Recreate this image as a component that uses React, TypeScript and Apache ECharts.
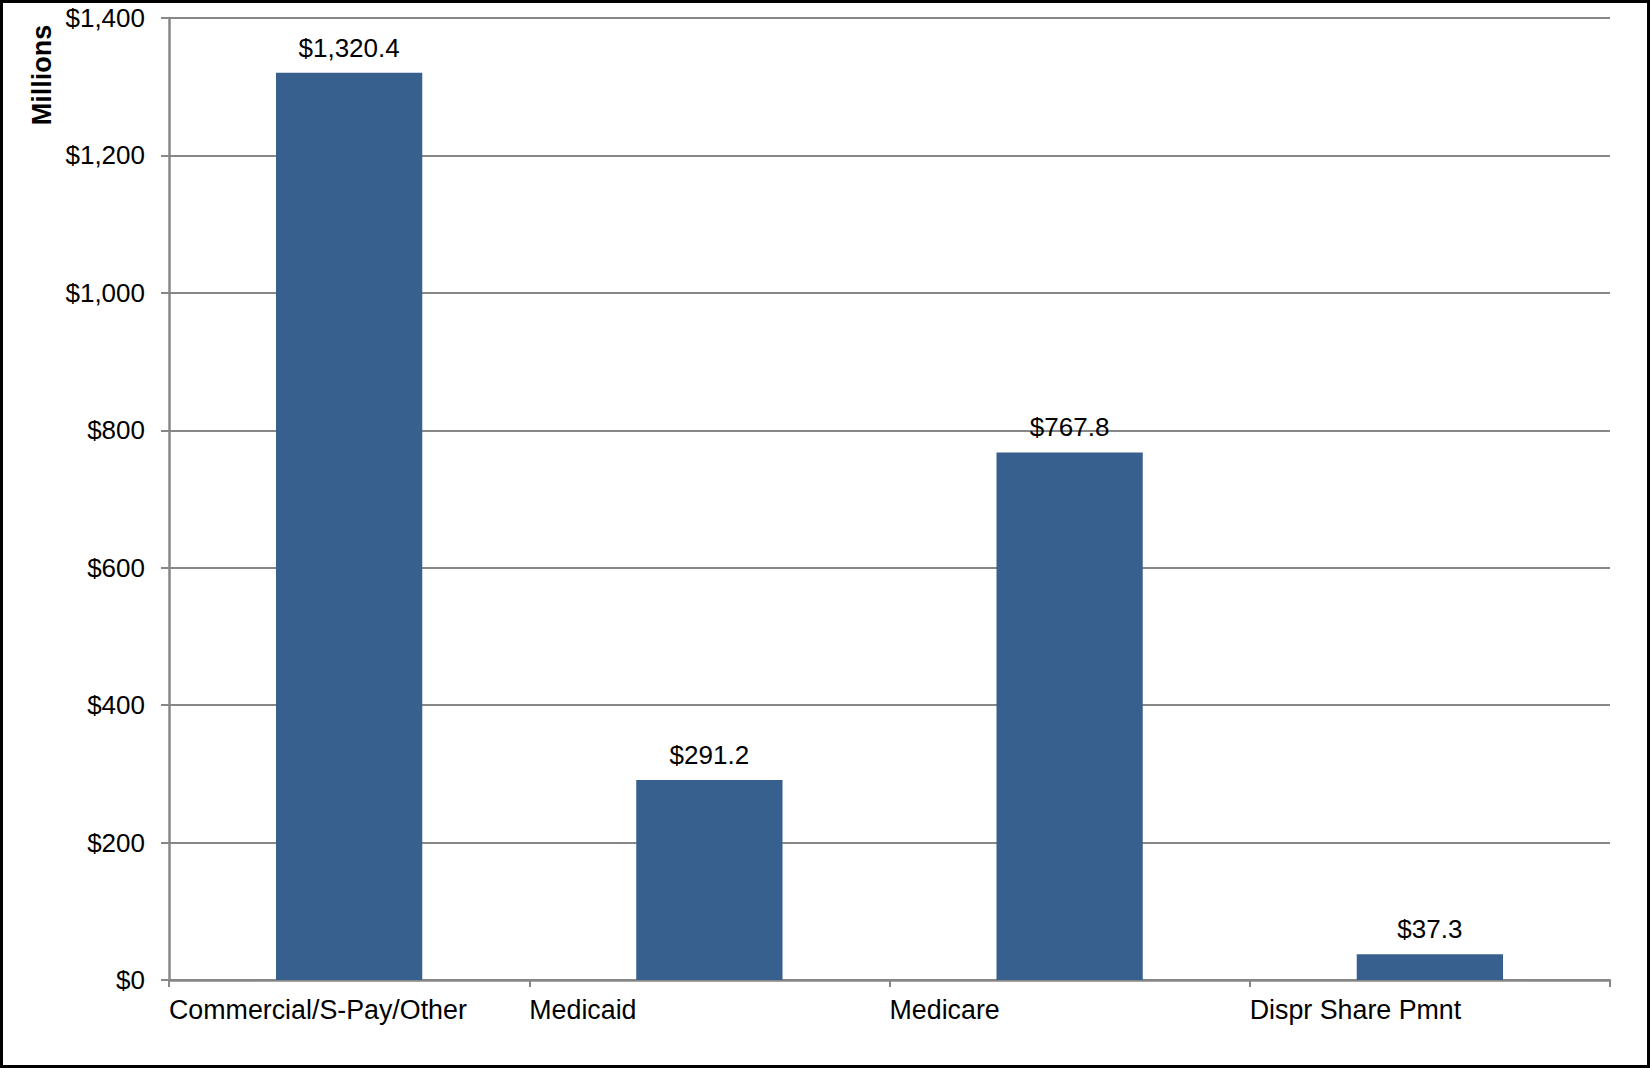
import React, { useEffect, useRef } from "react";
import * as echarts from "echarts";

const categories = ["Commercial/S-Pay/Other", "Medicaid", "Medicare", "Dispr Share Pmnt"];
const values = [1320.4, 291.2, 767.8, 37.3];
const yTicks = { min: 0, max: 1400, interval: 200 };
const axisTitle = "Millions";

const FONT = "'Liberation Sans', Arial, Helvetica, sans-serif";
const GRAY = "#878787";

function money(v: number, decimals: number): string {
  return "$" + v.toLocaleString("en-US", { minimumFractionDigits: decimals, maximumFractionDigits: decimals });
}

export default function App() {
  const ref = useRef<HTMLDivElement>(null);
  useEffect(() => {
    document.body.style.margin = "0";
    const chart = echarts.init(ref.current!, null, { renderer: "svg" });
    chart.setOption({
      animation: false,
      backgroundColor: "#ffffff",
      grid: { left: 169, right: 40, top: 18, bottom: 88, containLabel: false },
      xAxis: [
        {
          type: "category",
          data: categories,
          boundaryGap: true,
          axisLine: { lineStyle: { color: GRAY, width: 2.5 } },
          axisTick: { show: true, length: 7, lineStyle: { color: GRAY, width: 2 } },
          axisLabel: { show: false },
        },
        {
          type: "category",
          data: [...categories, ""],
          boundaryGap: false,
          position: "bottom",
          axisLine: { show: false },
          axisTick: { show: false },
          axisLabel: {
            show: true,
            interval: 0,
            align: "left",
            margin: 16,
            fontSize: 26.8,
            fontFamily: FONT,
            color: "#000000",
          },
        },
      ],
      yAxis: {
        type: "value",
        min: yTicks.min,
        max: yTicks.max,
        interval: yTicks.interval,
        axisLine: { show: true, lineStyle: { color: GRAY, width: 2.5 } },
        axisTick: { show: true, length: 8, lineStyle: { color: GRAY, width: 2 } },
        splitLine: { show: true, lineStyle: { color: GRAY, width: 2 } },
        axisLabel: {
          margin: 24,
          fontSize: 26,
          fontFamily: FONT,
          color: "#000000",
          formatter: (v: number) => money(v, 0),
        },
      },
      series: [
        {
          type: "bar",
          xAxisIndex: 0,
          data: values,
          barWidth: "40.6%",
          itemStyle: { color: "#37608f" },
          label: {
            show: true,
            position: "top",
            distance: 12,
            fontSize: 26,
            fontFamily: FONT,
            color: "#000000",
            formatter: (p: any) => money(p.value, 1),
          },
        },
      ],
      graphic: [
        {
          type: "text",
          x: 42,
          y: 75,
          rotation: Math.PI / 2,
          style: {
            text: axisTitle,
            fontSize: 27,
            fontWeight: "bold",
            fontFamily: FONT,
            fill: "#000000",
            align: "center",
            verticalAlign: "middle",
          },
        },
        {
          type: "rect",
          shape: { x: 1.5, y: 1.5, width: 1647, height: 1065 },
          style: { fill: "none", stroke: "#000000", lineWidth: 3 },
          silent: true,
        },
      ],
    });
    return () => chart.dispose();
  }, []);
  return <div ref={ref} style={{ width: 1650, height: 1068 }} />;
}
